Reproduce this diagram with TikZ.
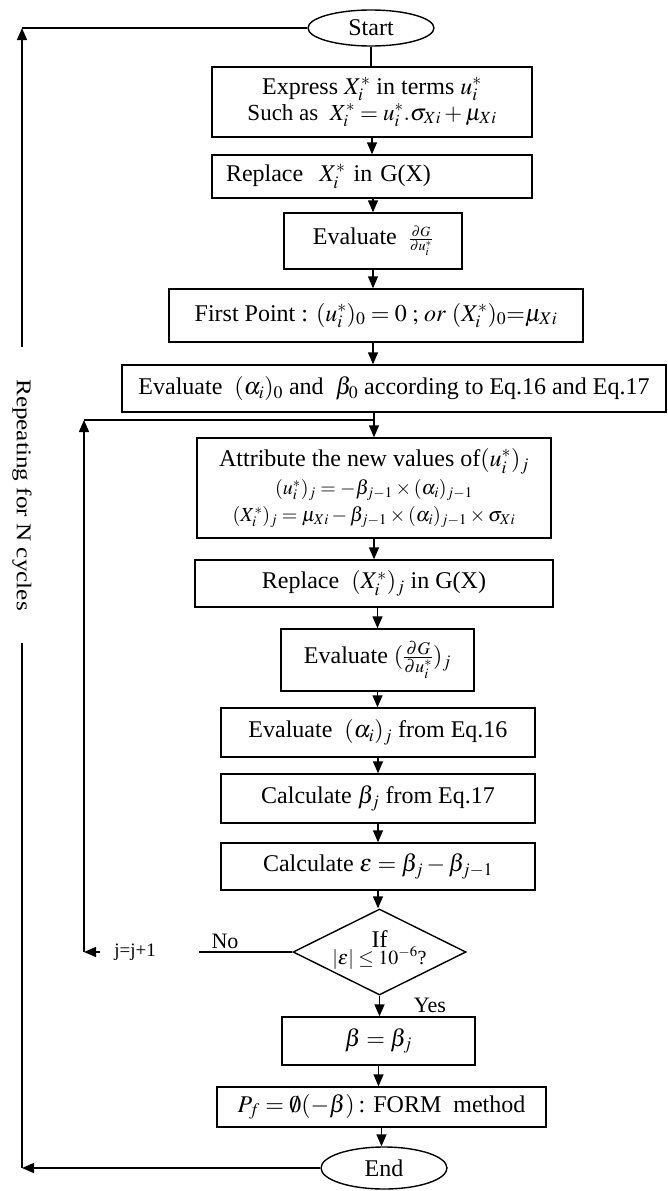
\documentclass[tikz,border=0pt]{standalone}
\usepackage{mathptmx}
\usepackage{fontspec}
\setmainfont{Liberation Serif}
\usetikzlibrary{shapes.geometric,arrows.meta}
\newcommand{\fsz}[1]{\fontsize{#1}{#1}\selectfont}
\begin{document}
\begin{tikzpicture}[x=1pt,y=-1pt,
  box/.style={draw,line width=1.4pt,rectangle,inner sep=2pt,align=center,font=\fsz{24}},
  term/.style={draw,line width=1.4pt,ellipse,inner sep=0pt,font=\fsz{24}},
  dec/.style={draw,line width=1.4pt,diamond,aspect=2,inner sep=0pt},
  lbl/.style={font=\fsz{22},inner sep=1pt},
  arr/.style={-{Triangle[length=12pt,width=10pt]},line width=1.4pt},
  ln/.style={line width=1.4pt}]
\useasboundingbox (0,0) rectangle (667,1191);

\node[term,minimum width=126pt,minimum height=36pt] (start) at (371,28) {Start};
\node[box,minimum width=320pt,minimum height=70pt] (b1) at (372,102)
  {Express $X_i^*$ in terms $u_i^*$\\[2pt] {\fsz{23}Such as\ \ $X_i^* = u_i^*.\sigma_{Xi} + \mu_{Xi}$}};
\node[box,minimum width=320pt,minimum height=43pt,text width=292pt,align=left,inner xsep=14pt] (b2) at (372,176.5)
  {Replace\ \ $X_i^*$ in G(X)};
\node[box,minimum width=178pt,minimum height=56pt] (b3) at (373,241)
  {Evaluate\ \ {\fsz{19}$\frac{\partial G}{\partial u_i^*}$}};
\node[box,minimum width=414pt,minimum height=53pt] (b4) at (376,315.5)
  {First Point : $(u_i^*)_0 = 0\;;\, or\ (X_i^*)_0{=}\mu_{Xi}$};
\node[box,minimum width=544pt,minimum height=47pt] (b5) at (394,388.5)
  {Evaluate\ \ $(\alpha_i)_0$ and\ \ $\beta_0$ according to Eq.16 and Eq.17};
\node[box,minimum width=354pt,minimum height=100pt] (b6) at (374,488)
  {Attribute the new values of$(u_i^*)_j$\\[4pt]
   {\fsz{20}$(u_i^*)_j = -\beta_{j-1}\times(\alpha_i)_{j-1}$}\\[3pt]
   {\fsz{20}$(X_i^*)_j = \mu_{Xi} - \beta_{j-1}\times(\alpha_i)_{j-1}\times\sigma_{Xi}$}};
\node[box,minimum width=358pt,minimum height=47pt] (b7) at (374,583.5)
  {Replace\ \ $(X_i^*)_j$ in G(X)};
\node[box,minimum width=193pt,minimum height=62pt] (b8) at (377.5,660)
  {Evaluate $(\frac{\partial G}{\partial u_i^*})_j$};
\node[box,minimum width=314pt,minimum height=49pt] (b9) at (378,732.5)
  {Evaluate\ \ $(\alpha_i)_j$ from Eq.16};
\node[box,minimum width=314pt,minimum height=49pt] (b10) at (378,798.5)
  {Calculate $\beta_j$ from Eq.17};
\node[box,minimum width=314pt,minimum height=47pt] (b11) at (378,866.5)
  {Calculate $\varepsilon = \beta_j - \beta_{j-1}$};
\node[dec,minimum width=173pt,minimum height=86pt] (dia) at (379.5,952) {};
\node[align=center,inner sep=0pt] (diat) at (379.5,950)
  {{\fsz{24}If}\\[-2pt] {\fsz{20}$|\varepsilon| \leq 10^{-6}$?}};
\node[box,minimum width=193pt,minimum height=48pt] (b12) at (378.5,1041)
  {$\beta = \beta_j$};
\node[box,minimum width=329pt,minimum height=40pt] (b13) at (381.5,1107)
  {$P_f = \emptyset(-\beta)$\,: FORM\ \ method};
\node[term,minimum width=126pt,minimum height=42pt] (end) at (384,1168) {End};

% main chain
\draw[ln] (start.south) -- (start.south |- b1.north);
\draw[arr] (b1.south) -- (b1.south |- b2.north);
\draw[arr] (b3.north |- b2.south) -- (b3.north);
\draw[arr] (b3.south) -- (b3.south |- b4.north);
\draw[arr] (b3.south |- b4.south) -- (b3.south |- b5.north);
\draw[arr] (b6.north |- b5.south) -- (b6.north);
\draw[arr] (b6.south) -- (b6.south |- b7.north);
\draw[arr] (b8.north |- b7.south) -- (b8.north);
\draw[arr] (b8.south) -- (b8.south |- b9.north);
\draw[arr] (b9.south) -- (b9.south |- b10.north);
\draw[arr] (b10.south) -- (b10.south |- b11.north);
\draw[arr] (b11.south) -- (b11.south |- dia.north);
\draw[arr] (dia.south) -- (dia.south |- b12.north);
\node[lbl] (yes) at (430,1005) {Yes};
\draw[arr] (b12.south) -- (b12.south |- b13.north);
\draw[arr] (b13.south) -- (b13.south |- end.north);

% inner loop
\coordinate (noend) at (199,952);
\draw[ln] (dia.west) -- (noend);
\node[lbl] (no) at (225,941) {No};
\node[font=\fsz{19},inner xsep=14pt,inner ysep=1pt] (jj) at (135,952) {j=j+1};
\coordinate (jb) at (84,952);
\coordinate (jt) at (84,420);
\draw[arr] (jj.west) -- (jb);
\draw[arr] (jb) -- (jt);
\draw[ln] (jt) -- (jt -| b6.north);

% outer loop
\coordinate (ob) at (22,1168);
\coordinate (ot) at (22,28);
\draw[arr] (end.west) -- (ob);
\node[rotate=-90,font=\fsz{21},inner xsep=32pt,inner ysep=0pt] (rep) at (22,495)
  {\scalebox{1.2}[1]{Repeating for N cycles}};
\draw[ln] (ob) -- (rep.east);
\draw[arr] (rep.west) -- (ot);
\draw[ln] (ot) -- (start.west);
\end{tikzpicture}
\end{document}
